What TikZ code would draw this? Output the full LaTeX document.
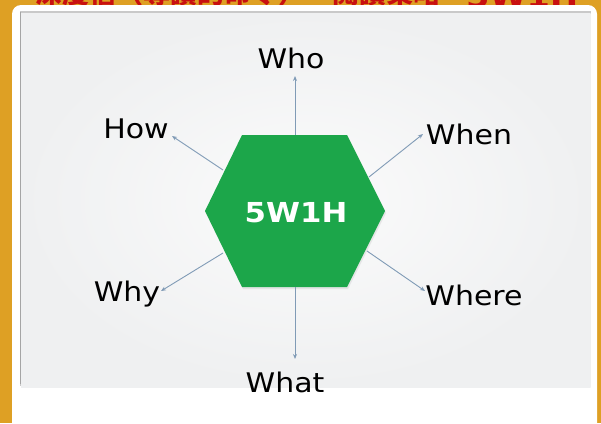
\documentclass[tikz,border=0pt]{standalone}
\usepackage{fontspec}
\usetikzlibrary{arrows.meta,shadings}
\newfontfamily\lblfont[FakeStretch=1.11]{DejaVu Sans}
\newfontfamily\hexfont[FakeStretch=1.12]{DejaVu Sans}
\newfontfamily\cjkfont{Noto Sans CJK TC}
\definecolor{bgorange}{RGB}{222,160,36}
\definecolor{panelgray}{RGB}{239,240,241}
\definecolor{hexgreen}{RGB}{28,166,74}
\definecolor{arrowblue}{RGB}{128,155,182}
\definecolor{titlered}{RGB}{200,16,16}
\definecolor{shadowgray}{RGB}{165,165,165}
\tikzset{
  lbl/.style={font=\lblfont\fontsize{27}{30}\selectfont, text=black, anchor=base, inner sep=0pt},
  spoke/.style={draw=arrowblue, line width=0.9pt, -{Stealth[length=5pt,width=4pt]}},
  titletext/.style={inner sep=0pt, text=titlered, anchor=base west},
}
\begin{document}
\begin{tikzpicture}[x=1pt,y=-1pt]
\useasboundingbox (0,0) rectangle (601,423);
\fill[bgorange] (0,0) rectangle (601,423);
% cut-off title
\begin{scope}
\clip (0,0) rectangle (601,423);
\node[titletext, font=\cjkfont\bfseries\fontsize{27}{30}\selectfont] (title) at (35,3) {深度信（導讀的命令）一閱讀策略};
\node[titletext, font=\hexfont\bfseries\fontsize{30}{32}\selectfont] (titlew) at (466,7) {5W1H};
\end{scope}
% white card
\fill[white, rounded corners=9pt] (12,5) rectangle (597,440);
% gray panel
\fill[shadowgray!60] (19.5,11) rectangle (591,386);
\fill[shadowgray] (19.5,12) rectangle (21,384);
\shade[inner color=white!75!panelgray, outer color=panelgray] (21,13) rectangle (590.5,387);
% hexagon
\fill[black!25, opacity=0.3] (206,213) -- (243,137) -- (348,137) -- (386,213) -- (348,289) -- (243,289) -- cycle;
\fill[hexgreen] (205,211) -- (242,135) -- (347,135) -- (385,211) -- (347,287) -- (242,287) -- cycle;
\node[text=white, font=\hexfont\bfseries\fontsize{27.5}{30}\selectfont, inner sep=0pt, anchor=base] (hex) at (296,222) {5W1H};
% anchor points on hexagon edges and arrow tips
\coordinate (sWho) at (295,135);
\coordinate (tWho) at (295,76);
\coordinate (sHow) at (223,170);
\coordinate (tHow) at (172,136);
\coordinate (sWhen) at (369,177);
\coordinate (tWhen) at (423,134);
\coordinate (sWhy) at (223,253);
\coordinate (tWhy) at (161,291);
\coordinate (sWhere) at (367,251);
\coordinate (tWhere) at (425,291);
\coordinate (sWhat) at (295,287);
\coordinate (tWhat) at (295,359);
% labels
\node[lbl] (who) at (291,68) {Who};
\node[lbl] (how) at (136,138) {How};
\node[lbl] (when) at (469,144) {When};
\node[lbl] (why) at (127,301) {Why};
\node[lbl] (where) at (474,305) {Where};
\node[lbl] (what) at (285,392) {What};
% spokes
\draw[spoke] (sWho) -- (tWho);
\draw[spoke] (sHow) -- (tHow);
\draw[spoke] (sWhen) -- (tWhen);
\draw[spoke] (sWhy) -- (tWhy);
\draw[spoke] (sWhere) -- (tWhere);
\draw[spoke] (sWhat) -- (tWhat);
\end{tikzpicture}
\end{document}
